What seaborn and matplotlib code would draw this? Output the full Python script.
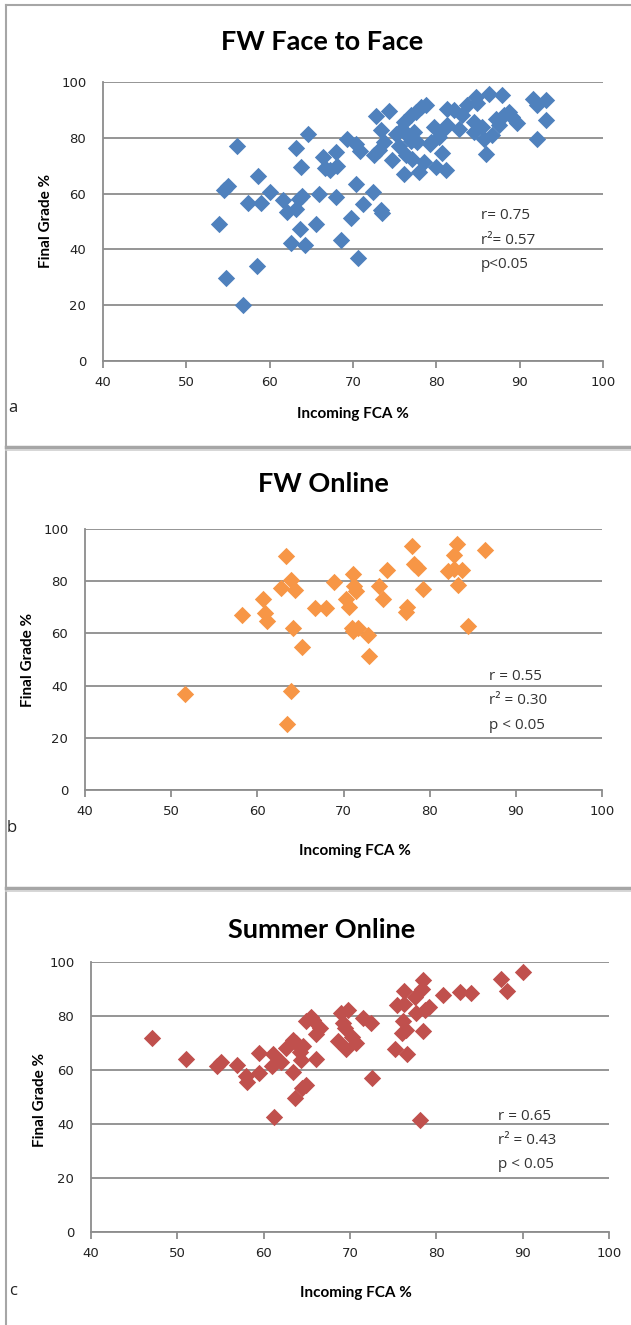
import numpy as np
import pandas as pd
import matplotlib
matplotlib.use("Agg")
import matplotlib.pyplot as plt
import seaborn as sns
from matplotlib.lines import Line2D

# FW Face to Face
f2f_fca = [53.9, 54.8, 56.8, 56.1, 54.5, 55.0, 57.4, 58.6, 59.0, 58.5, 60.0, 61.6, 62.1, 62.6,
           63.2, 63.5, 63.9, 63.6, 64.2, 63.2, 63.8, 64.6, 65.5, 65.9, 66.4, 66.6, 67.2, 67.9,
           68.1, 67.9, 68.6, 69.3, 70.3, 70.8, 70.3, 69.8, 71.2, 70.6, 72.4, 72.7, 73.4, 73.5,
           72.5, 73.1, 73.3, 73.7, 74.3, 74.7, 75.2, 75.9, 76.1, 76.1, 76.3, 76.7, 76.9, 77.1,
           77.3, 77.5, 77.9, 78.1, 78.5, 78.7, 77.7, 79.3, 79.7, 79.9, 80.3, 80.7, 80.9, 81.2,
           81.3, 82.1, 82.7, 83.1, 83.7, 84.5, 84.8, 84.9, 85.5, 85.7, 86.0, 86.3, 86.7, 87.1,
           87.5, 87.9, 88.1, 88.7, 89.1, 89.7, 91.6, 92.1, 93.1, 93.1, 92.1, 81.3, 79.2, 84.5,
           75.5, 77.0]
f2f_grade = [49.0, 29.7, 20.0, 77.1, 61.2, 62.6, 56.6, 66.2, 56.6, 33.9, 60.6, 57.7, 53.4, 42.3,
             54.6, 58.2, 59.1, 47.4, 41.7, 76.3, 69.5, 81.5, 49.1, 59.9, 73.1, 69.2, 68.3, 74.9,
             69.9, 58.8, 43.2, 79.7, 77.9, 75.1, 63.6, 51.4, 56.4, 36.9, 60.6, 87.8, 54.0, 53.2,
             73.7, 75.5, 82.7, 78.5, 89.5, 71.9, 81.5, 83.3, 85.7, 66.9, 73.7, 80.3, 88.1, 72.5,
             82.1, 89.2, 67.7, 91.0, 71.3, 91.9, 78.5, 78.5, 83.9, 69.5, 80.3, 74.7, 83.3, 68.3,
             90.4, 89.8, 83.3, 88.2, 91.6, 85.7, 94.6, 92.6, 83.9, 79.7, 74.1, 95.8, 80.9, 86.9,
             84.5, 95.2, 88.1, 89.2, 87.5, 85.3, 93.8, 91.6, 93.4, 86.5, 79.7, 84.5, 77.7, 82.0,
             77.0, 79.0]

# FW Online
fwo_fca = [51.6, 58.2, 60.6, 60.9, 61.1, 62.8, 63.3, 63.5, 63.9, 64.4, 63.9, 64.1, 65.2, 66.7,
           68.0, 68.9, 70.3, 70.6, 71.1, 71.2, 71.5, 71.0, 71.1, 71.7, 72.9, 73.0, 74.1, 74.6,
           75.0, 77.3, 77.4, 77.9, 78.2, 78.6, 79.2, 82.1, 82.8, 82.8, 83.2, 83.3, 83.8, 84.4,
           86.4]
fwo_grade = [36.6, 67.2, 73.3, 67.9, 64.7, 77.4, 89.5, 25.4, 80.6, 76.5, 38.1, 62.1, 54.8, 69.8,
             69.8, 79.6, 73.2, 70.2, 82.9, 78.1, 76.1, 62.1, 60.8, 62.1, 59.3, 51.3, 78.1, 73.0,
             84.2, 68.1, 70.2, 93.6, 86.4, 85.1, 77.0, 83.8, 84.8, 90.2, 94.3, 78.7, 84.2, 63.0,
             92.1]

# Summer Online
so_fca = [47.1, 51.0, 54.6, 55.0, 56.9, 58.0, 58.1, 59.5, 59.5, 61.1, 61.0, 61.2, 62.0, 62.6,
          63.4, 63.4, 63.6, 63.8, 64.2, 64.3, 64.4, 64.9, 64.6, 64.9, 65.5, 65.7, 66.1, 66.1,
          66.5, 68.6, 69.0, 69.2, 69.4, 69.5, 69.8, 70.2, 70.7, 71.5, 72.4, 72.6, 75.2, 75.4,
          76.0, 76.1, 76.2, 76.3, 76.5, 76.6, 77.5, 77.7, 78.1, 78.3, 78.4, 78.4, 78.7, 79.1,
          80.8, 82.7, 84.0, 87.5, 88.2, 90.0]
so_grade = [71.8, 64.1, 61.3, 62.9, 61.9, 57.9, 55.7, 66.2, 58.8, 65.8, 61.6, 42.5, 62.9, 68.3,
            71.2, 59.4, 49.5, 69.9, 66.8, 63.7, 53.2, 54.5, 68.9, 78.0, 79.8, 78.5, 64.1, 73.3,
            75.7, 70.8, 81.1, 77.4, 75.5, 67.7, 82.3, 72.4, 69.9, 79.2, 77.4, 57.2, 67.8, 83.9,
            73.6, 78.2, 84.4, 89.1, 74.9, 65.8, 86.9, 81.1, 41.5, 90.0, 93.4, 74.5, 82.3, 83.5,
            87.6, 88.9, 88.7, 93.8, 89.4, 96.3]

titles = ["FW Face to Face", "FW Online", "Summer Online"]
letters = ["a", "b", "c"]
stats = [["r= 0.75", "r\u00b2= 0.57", "p<0.05"],
         ["r = 0.55", "r\u00b2 = 0.30", "p < 0.05"],
         ["r = 0.65", "r\u00b2 = 0.43", "p < 0.05"]]
colors = ["#4F81BD", "#F79646", "#C0504D"]
xticks = [40, 50, 60, 70, 80, 90, 100]
yticks = [0, 20, 40, 60, 80, 100]

W, H = 631, 1325
fig = plt.figure(figsize=(W / 100, H / 100), dpi=100)
fig.patch.set_facecolor("white")

def px(x, y):
    return x / W, 1 - y / H

# panel layouts in pixels: plot box (left, right, top, bottom), title, ylabel, xlabel, letter, stats pos
layout = [
    dict(box=(103, 603, 82, 361), title=(322, 42), ylab=(46, 221), xlab=(353, 414), let=(13, 408),
         st=(85.3, [52.0, 43.3, 34.5])),
    dict(box=(85, 602, 529, 790), title=(323, 484), ylab=(28, 660), xlab=(355, 851), let=(12, 828),
         st=(86.9, [43.4, 34.1, 24.7])),
    dict(box=(91, 609, 962, 1232), title=(322, 930), ylab=(40, 1100), xlab=(356, 1293), let=(13, 1291),
         st=(87.1, [42.9, 34.0, 25.0])),
]

frames = [
    pd.DataFrame({"fca": f2f_fca, "grade": f2f_grade}),
    pd.DataFrame({"fca": fwo_fca, "grade": fwo_grade}),
    pd.DataFrame({"fca": so_fca, "grade": so_grade}),
]

grid_col = "#8C8C8C"
head = ["Lato", "DejaVu Sans"]

for i, df in enumerate(frames):
    L = layout[i]
    l, r, t, b = L["box"]
    ax = fig.add_axes([l / W, 1 - b / H, (r - l) / W, (b - t) / H])
    sns.scatterplot(data=df, x="fca", y="grade", ax=ax, marker="D", s=78,
                    color=colors[i], edgecolor=colors[i], linewidth=0, zorder=3)
    ax.set_xlim(40, 100)
    ax.set_ylim(0, 100)
    ax.set_xticks(xticks)
    ax.set_yticks(yticks)
    ax.set_xlabel("")
    ax.set_ylabel("")
    ax.yaxis.grid(True, color=grid_col, linewidth=1.3)
    ax.set_axisbelow(True)
    for s in ["top", "right"]:
        ax.spines[s].set_visible(False)
    for s in ["left", "bottom"]:
        ax.spines[s].set_color(grid_col)
        ax.spines[s].set_linewidth(1.3)
    ax.tick_params(axis="x", direction="out", length=5, width=1.3, color=grid_col, pad=6,
                   labelsize=9.5, labelcolor="#222222")
    ax.tick_params(axis="y", direction="out", length=0, pad=12, labelsize=9.5, labelcolor="#222222")
    sx, sy = L["st"]
    for txt, yy in zip(stats[i], sy):
        ax.text(sx, yy, txt, fontsize=11, color="#333333", va="center", ha="left",
                family=["Open Sans", "DejaVu Sans"], zorder=4)

    fig.text(*px(*L["title"]), titles[i], ha="center", va="center", fontsize=19.5,
             fontweight="bold", family=head)
    fig.text(*px(*L["ylab"]), "Final Grade %", ha="center", va="center", rotation=90,
             fontsize=11, fontweight="bold", family=head)
    fig.text(*px(*L["xlab"]), "Incoming FCA %", ha="center", va="center",
             fontsize=11, fontweight="bold", family=head)
    fig.text(*px(*L["let"]), letters[i], ha="center", va="center", fontsize=12,
             family=["Open Sans", "DejaVu Sans"], color="#222222")

# panel frames
border = "#A6A6A6"
fig.add_artist(Line2D([6 / W, 6 / W], [0, 1 - 5 / H], color=border, lw=1.5))
fig.add_artist(Line2D([6 / W, 1], [1 - 5 / H, 1 - 5 / H], color=border, lw=1.5))
for ysep in [447, 888]:
    fig.add_artist(Line2D([6 / W, 1], [1 - ysep / H, 1 - ysep / H], color=border, lw=2.5))
    fig.add_artist(Line2D([6 / W, 1], [1 - (ysep + 3) / H, 1 - (ysep + 3) / H], color="#D0D0D0", lw=1.2))

fig.savefig("out.png", dpi=100, facecolor="white")
